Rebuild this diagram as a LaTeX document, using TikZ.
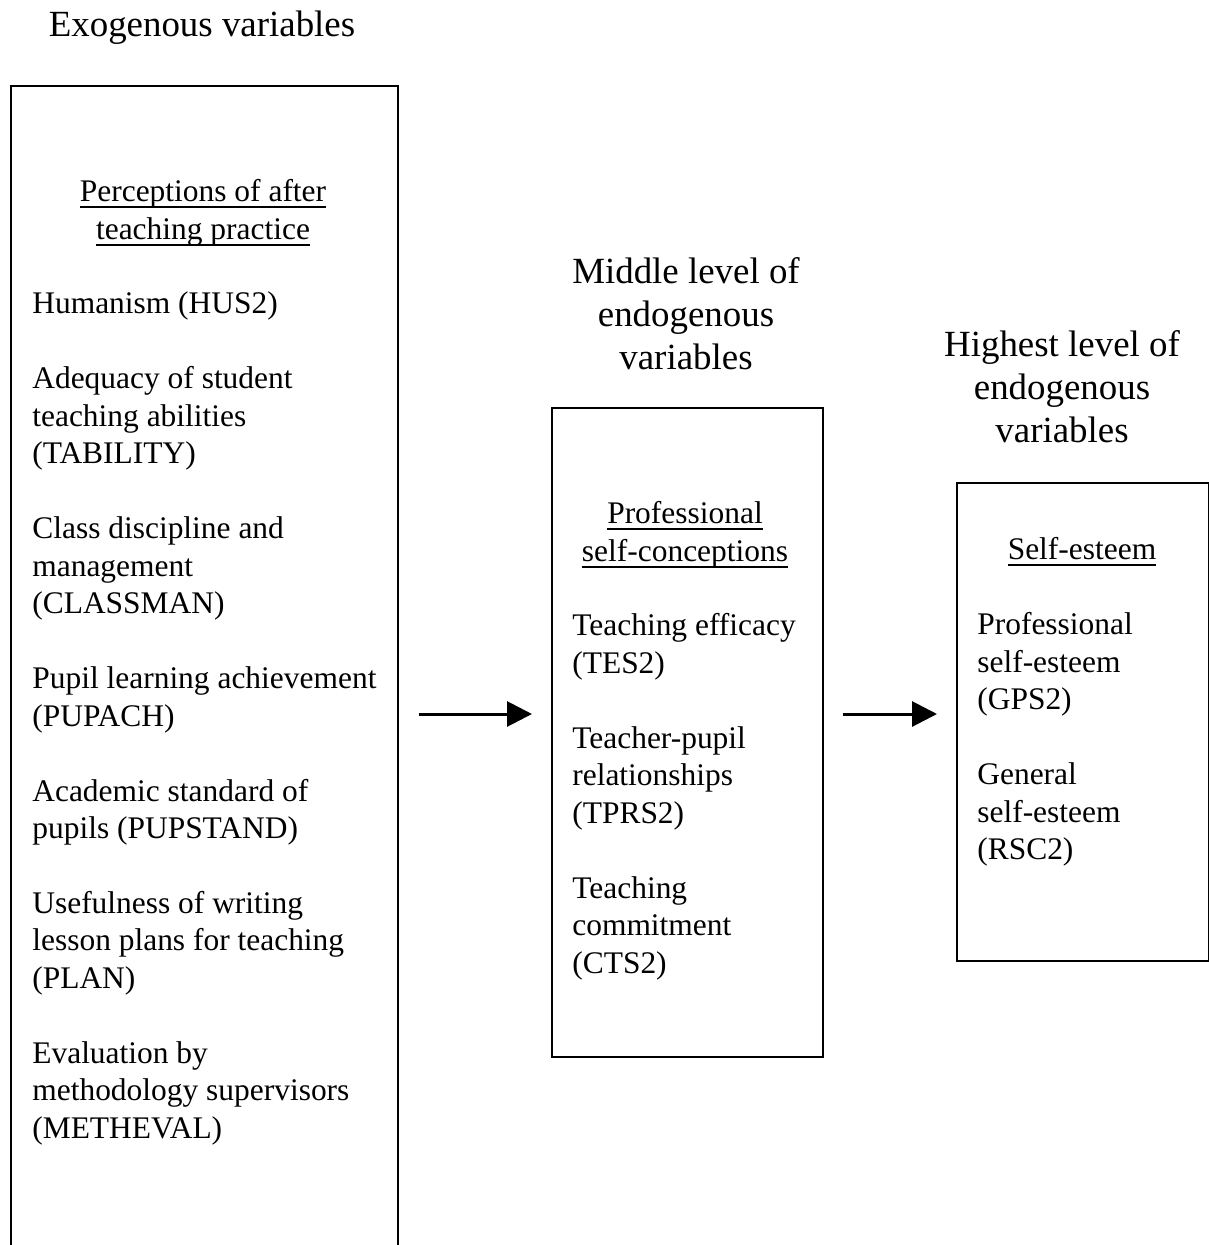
\documentclass[tikz,border=0pt]{standalone}
\usepackage{fontspec}
\setmainfont{Liberation Serif}
\usetikzlibrary{arrows.meta}
\newcommand{\ulhead}[1]{\setbox0\hbox{#1}\rlap{\vrule height -2.6pt depth 3.7pt width \wd0}\box0}

\begin{document}
\begin{tikzpicture}[x=0.02cm, y=-0.02cm,
  box/.style={draw, line width=1.1pt, inner sep=0pt, anchor=north west},
  title/.style={font=\fontsize{21}{24.4}\selectfont, align=center, anchor=north, inner sep=0pt},
  head/.style={font=\fontsize{17.9}{21.34}\selectfont, align=center, anchor=north, inner sep=0pt},
  items/.style={font=\fontsize{17.9}{21.34}\selectfont, align=left, anchor=north west, inner sep=0pt},
  flow/.style={line width=1.7pt, -{Triangle[length=0.5cm,width=0.5cm]}}]
\useasboundingbox (0,0) rectangle (1209,1245);
% edit here for the three levels
\node[title] (exotitle) at (202,6) {\strut Exogenous variables};
\node[title] (midtitle) at (686,253) {\strut Middle level of\\endogenous\\variables};
\node[title] (toptitle) at (1062,326) {\strut Highest level of\\endogenous\\variables};
% boxes (the left one runs off the page)
\node[box, minimum width=7.74cm, minimum height=24.4cm] (exobox) at (10,85) {};
\node[box, minimum width=5.42cm, minimum height=12.98cm] (midbox) at (551,407) {};
\node[box, minimum width=5.04cm, minimum height=9.56cm] (topbox) at (956,482) {};
% headings
\node[head] (exohead) at (203,175) {\strut\ulhead{Perceptions of after}\\\ulhead{teaching practice}};
\node[head] (midhead) at (685,497) {\strut\ulhead{Professional}\\\ulhead{self-conceptions}};
\node[head] (tophead) at (1082,533) {\strut\ulhead{Self-esteem}};
% variables
\node[items] (exolist) at (32,287) {\strut Humanism (HUS2)\\ \strut\\
  Adequacy of student\\ teaching abilities\\ (TABILITY)\\ \strut\\
  Class discipline and\\ management\\ (CLASSMAN)\\ \strut\\
  Pupil learning achievement\\ (PUPACH)\\ \strut\\
  Academic standard of\\ pupils (PUPSTAND)\\ \strut\\
  Usefulness of writing\\ lesson plans for teaching\\ (PLAN)\\ \strut\\
  Evaluation by\\ methodology supervisors\\ (METHEVAL)};
\node[items] (midlist) at (572,609) {\strut Teaching efficacy\\ (TES2)\\ \strut\\
  Teacher-pupil\\ relationships\\ (TPRS2)\\ \strut\\
  Teaching\\ commitment\\ (CTS2)};
\node[items] (toplist) at (977,608) {\strut Professional\\ self-esteem\\ (GPS2)\\ \strut\\
  General\\ self-esteem\\ (RSC2)};
% arrows
\coordinate (arrowrow) at (0,714);
\draw[flow, shorten <=0.4cm, shorten >=0.38cm] (exobox.east |- arrowrow) -- (midbox.west |- arrowrow);
\draw[flow, shorten <=0.38cm, shorten >=0.38cm] (midbox.east |- arrowrow) -- (topbox.west |- arrowrow);
\end{tikzpicture}
\end{document}
